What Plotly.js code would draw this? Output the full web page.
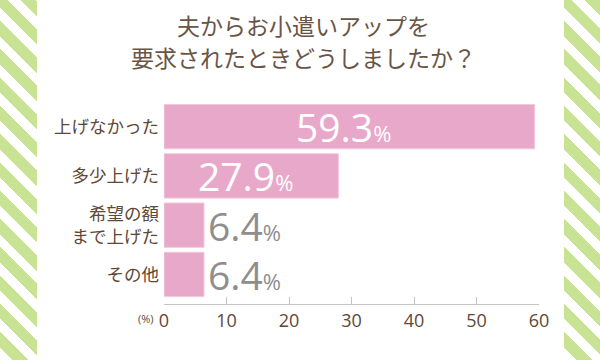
<!DOCTYPE html>
<html>
<head>
<meta charset="utf-8">
<script src="https://cdn.plot.ly/plotly-3.0.1.min.js"></script>
<style>
  html, body { margin:0; padding:0; background:#ffffff; }
  #wrap { position:relative; width:600px; height:360px; overflow:hidden; background:#fff; }
  .stripe { position:absolute; top:0; height:360px; width:37px;
    background: repeating-linear-gradient(45deg, #ffffff 0px, #ffffff 9px, #c9e395 9px, #c9e395 20px); }
  #left { left:0; }
  #right { left:564px; width:36px; }
  #chart { position:absolute; left:0; top:0; width:600px; height:360px; }
</style>
</head>
<body>
<div id="wrap">
  <div class="stripe" id="left"></div>
  <div class="stripe" id="right"></div>
  <div id="chart"></div>
</div>
<script>
const categories = ["上げなかった", "多少上げた", "希望の額<br>まで上げた", "その他"];
const values = [59.3, 27.9, 6.4, 6.4];
const xTicks = [0, 10, 20, 30, 40, 50, 60];
const titleLines = ["夫からお小遣いアップを", "要求されたときどうしましたか？"];
const unitLabel = "(%)";

const brown = "#5e4838";
const fontFam = "'Open Sans', 'Noto Sans CJK JP', sans-serif";
const jpFam = "'Noto Sans CJK JP', sans-serif";

const annotations = values.map((v, i) => {
  const inside = v > 15;
  return {
    x: inside ? v / 2 : v,
    y: i,
    xref: "x", yref: "y",
    text: v.toFixed(1) + "<span style='font-size:22px'>%</span>",
    showarrow: false,
    xanchor: inside ? "center" : "left",
    xshift: inside ? -6 : 2,
    yanchor: "middle",
    font: { family: fontFam, size: 39, color: inside ? "#ffffff" : "#8e8e8e" }
  };
});
annotations.push({
  x: 0, y: 0, xref: "paper", yref: "paper",
  xanchor: "right", yanchor: "top", xshift: -8, yshift: -5,
  text: unitLabel, showarrow: false,
  font: { family: fontFam, size: 11, color: brown }
});
const titleY = [1.381, 1.223];
titleLines.forEach((t, k) => {
  annotations.push({
    x: 0.373, y: titleY[k], xref: "paper", yref: "paper",
    xanchor: "center", yanchor: "middle",
    text: t, showarrow: false,
    font: { family: jpFam, size: 23, color: "#6a5545" }
  });
});

const trace = {
  type: "bar",
  orientation: "h",
  x: values,
  y: categories.map((c, i) => i),
  marker: { color: "#e8a8c9", line: { color: "#f3c8dc", width: 1 } },
  width: 0.9,
  hoverinfo: "none"
};

const layout = {
  width: 600, height: 360,
  margin: { l: 164, r: 61, t: 102, b: 56 },
  paper_bgcolor: "rgba(0,0,0,0)",
  plot_bgcolor: "rgba(0,0,0,0)",
  showlegend: false,
  xaxis: {
    range: [0, 60],
    tickvals: xTicks,
    ticktext: xTicks.map(String),
    ticks: "inside", ticklen: 7, tickcolor: "#c4c4c4", tickwidth: 1,
    showline: true, linecolor: "#c4c4c4", linewidth: 1,
    showgrid: false, zeroline: false,
    tickfont: { family: fontFam, size: 18, color: brown }
  },
  yaxis: {
    range: [3.6, -0.5],
    tickvals: categories.map((c, i) => i),
    ticktext: categories,
    ticks: "", showline: false, showgrid: false, zeroline: false,
    ticklabelstandoff: 4,
    tickfont: { family: jpFam, size: 17.5, color: brown }
  },
  annotations: annotations
};

Plotly.newPlot("chart", [trace], layout, { staticPlot: true, displayModeBar: false });
</script>
</body>
</html>
